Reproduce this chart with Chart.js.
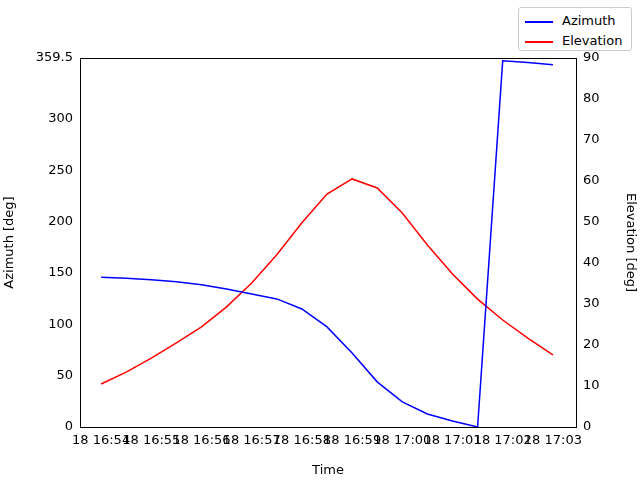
<!DOCTYPE html>
<html>
<head>
<script src="https://cdn.jsdelivr.net/npm/chart.js@4"></script>
<style>
  body { margin: 0; background: #fff; }
  #wrap { position: relative; width: 640px; height: 480px; }
  #legend { position: absolute; left: 518px; top: 7px; width: 114px; height: 44px; border: 1px solid #ccc; border-radius: 3px; background: #fff;
    font: 13px "DejaVu Sans", sans-serif; box-sizing: border-box; padding: 3px 0 0 6px; }
  #legend div { height: 20px; line-height: 20px; }
  #legend span { display: inline-block; width: 28px; height: 2px; vertical-align: middle; margin-right: 9px; }
</style>
</head>
<body>
<div id="wrap">
  <canvas id="c" width="640" height="480"></canvas>
  <div id="legend">
    <div><span style="background:#0000ff"></span>Azimuth</div>
    <div><span style="background:#ff0000"></span>Elevation</div>
  </div>
</div>
<script>
// minutes after 18 16:54, one sample every 30 s
const minutes = [0, 0.5, 1, 1.5, 2, 2.5, 3, 3.5, 4, 4.5, 5, 5.5, 6, 6.5, 7, 7.5, 8, 8.5, 9];
const azimuth = [146, 145, 143.5, 141.5, 138.5, 134.5, 129.6, 124.8, 115, 97.5, 72, 44, 24.4, 12.7, 5.8, 0, 356.7, 355, 353];
const elevation = [10.5, 13.4, 16.8, 20.5, 24.4, 29.3, 35.1, 42, 49.8, 56.8, 60.5, 58.3, 52.2, 44.4, 37.3, 31.2, 26.1, 21.7, 17.6];
const timeLabels = ['18 16:54', '18 16:55', '18 16:56', '18 16:57', '18 16:58', '18 16:59', '18 17:00', '18 17:01', '18 17:02', '18 17:03'];

const font = { family: 'DejaVu Sans', size: 13 };
const tickStyle = { color: '#000', font: font };
const titleStyle = (t) => ({ display: true, text: t, color: '#000', font: font, padding: 2 });

new Chart(document.getElementById('c'), {
  type: 'line',
  data: {
    datasets: [
      { label: 'Azimuth', data: minutes.map((m, i) => ({ x: m, y: azimuth[i] })), borderColor: '#0000ff', borderWidth: 1.5, pointRadius: 0, yAxisID: 'y' },
      { label: 'Elevation', data: minutes.map((m, i) => ({ x: m, y: elevation[i] })), borderColor: '#ff0000', borderWidth: 1.5, pointRadius: 0, yAxisID: 'y2' }
    ]
  },
  options: {
    responsive: false,
    animation: false,
    layout: { padding: { top: 58, right: 0, left: 0, bottom: 0 } },
    plugins: { legend: { display: false }, tooltip: { enabled: false } },
    scales: {
      x: {
        type: 'linear', min: -0.42, max: 9.46,
        afterBuildTicks: (s) => { s.ticks = timeLabels.map((_, i) => ({ value: i })); },
        ticks: { ...tickStyle, maxRotation: 0, autoSkip: false, padding: 2, callback: (v) => timeLabels[v] },
        grid: { display: false, drawTicks: true, tickLength: 4, tickColor: '#000' },
        border: { color: '#000' },
        title: titleStyle('Time'),
        afterFit: (s) => { s.height = 53; }
      },
      y: {
        position: 'left', min: 0, max: 359.5,
        ticks: { ...tickStyle, stepSize: 50, padding: 3 },
        grid: { display: false, tickLength: 4, tickColor: '#000' },
        border: { color: '#000' },
        title: titleStyle('Azimuth [deg]'),
        afterFit: (s) => { s.width = 80; }
      },
      y2: {
        position: 'right', min: 0, max: 90,
        ticks: { ...tickStyle, stepSize: 10, padding: 3 },
        grid: { display: false, tickLength: 4, tickColor: '#000' },
        border: { color: '#000' },
        title: titleStyle('Elevation [deg]'),
        afterFit: (s) => { s.width = 64; }
      }
    }
  },
  plugins: [{
    id: 'topBorder',
    afterDraw: (chart) => {
      const a = chart.chartArea, ctx = chart.ctx;
      ctx.save(); ctx.strokeStyle = '#000'; ctx.lineWidth = 1;
      ctx.beginPath(); ctx.moveTo(a.left, a.top + 0.5); ctx.lineTo(a.right, a.top + 0.5); ctx.stroke();
      ctx.restore();
    }
  }]
});
</script>
</body>
</html>
